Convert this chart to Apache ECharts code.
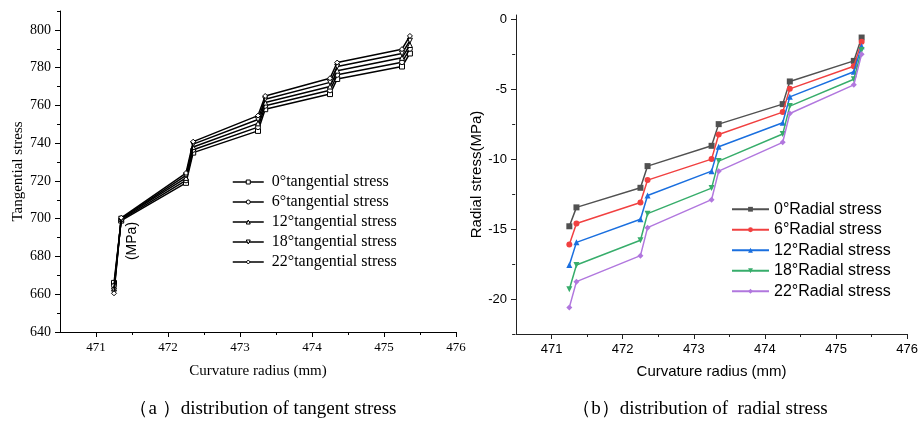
<!DOCTYPE html>
<html>
<head>
<meta charset="utf-8">
<script src="https://cdn.jsdelivr.net/npm/echarts@6/dist/echarts.min.js"></script>
<style>
  html, body { margin: 0; padding: 0; background: #fff; }
  #main { width: 921px; height: 423px; }
</style>
</head>
<body>
<div id="main"></div>
<script>
// curvature radius (mm), shared by both panels
var radius = [471.25, 471.35, 472.25, 472.35, 473.25, 473.35, 474.25, 474.35, 475.25, 475.36];

var angles = ['0°', '6°', '12°', '18°', '22°'];

// tangential stress (MPa)
var tan0  = [666.0, 699.0, 719.0, 735.0, 746.5, 758.0, 766.0, 774.0, 780.6, 787.5];
var tan6  = [664.5, 699.5, 720.3, 736.5, 748.5, 759.8, 768.0, 776.2, 782.9, 790.0];
var tan12 = [663.0, 700.0, 721.6, 738.0, 750.5, 761.5, 770.0, 778.4, 785.2, 792.0];
var tan18 = [662.0, 700.0, 722.9, 739.5, 752.5, 763.3, 772.2, 780.6, 787.5, 794.3];
var tan22 = [660.5, 700.5, 724.2, 740.8, 754.6, 765.0, 774.4, 782.7, 789.8, 796.8];

// radial stress (MPa)
var rad0  = [-14.8, -13.45, -12.05, -10.5, -9.05, -7.5, -6.07, -4.45, -2.98, -1.31];
var rad6  = [-16.1, -14.6, -13.1, -11.5, -10.0, -8.24, -6.64, -4.98, -3.36, -1.62];
var rad12 = [-17.57, -15.95, -14.3, -12.6, -10.86, -9.12, -7.4, -5.55, -3.76, -1.93];
var rad18 = [-19.3, -17.57, -15.8, -13.9, -12.07, -10.14, -8.21, -6.21, -4.29, -2.21];
var rad22 = [-20.6, -18.76, -16.9, -14.9, -12.9, -10.86, -8.8, -6.74, -4.69, -2.5];

// tick values
var xMajor = [471, 472, 473, 474, 475, 476];
var xMinor = [471.5, 472.5, 473.5, 474.5, 475.5];
var tanMajor = [640, 660, 680, 700, 720, 740, 760, 780, 800];
var tanMinor = [650, 670, 690, 710, 730, 750, 770, 790, 810];
var radMajor = [-20, -15, -10, -5, 0];
var radMinor = [-22.5, -17.5, -12.5, -7.5, -2.5];

var serif = '"Liberation Serif", "Times New Roman", serif';
var sans = '"Liberation Sans", Arial, sans-serif';

var tanSets = [tan0, tan6, tan12, tan18, tan22];
var radSets = [rad0, rad6, rad12, rad18, rad22];
var symbols = ['rect', 'circle', 'triangle', 'triangle', 'diamond'];
var symRot = [0, 0, 0, 180, 0];
var colors = ['#515151', '#F14040', '#1A6FDF', '#37AD6B', '#B177DE'];

// grid boxes
var g0 = { left: 60, right: 465, top: 11, bottom: 91 };
var g1 = { left: 516, right: 13, top: 15, bottom: 89 };
var g0w = 921 - g0.left - g0.right, g0h = 423 - g0.top - g0.bottom;
var g1w = 921 - g1.left - g1.right, g1h = 423 - g1.top - g1.bottom;

function pairs(vals) {
    return radius.map(function (r, i) { return [r, vals[i]]; });
}

function xAxisMain(gi, font, color, gap) {
    return {
        gridIndex: gi, type: 'value', min: 470.5, max: 476,
        name: 'Curvature radius (mm)', nameLocation: 'middle', nameGap: gap,
        nameTextStyle: { fontFamily: font, fontSize: 15, color: '#000' },
        axisLine: { show: true, onZero: false, lineStyle: { color: color, width: 1 } },
        axisTick: { show: true, inside: false, length: 5, customValues: xMajor, lineStyle: { color: color } },
        axisLabel: { customValues: xMajor, fontFamily: font, fontSize: 13, color: '#000', margin: 9 },
        splitLine: { show: false }
    };
}
// minor ticks: a second axis sitting on 'top', shifted down onto the bottom line
function xAxisMinor(gi, color, h) {
    return {
        gridIndex: gi, type: 'value', min: 470.5, max: 476, position: 'top', offset: -h,
        axisLine: { show: false },
        axisTick: { show: true, inside: true, length: 3, customValues: xMinor, lineStyle: { color: color } },
        axisLabel: { show: false },
        splitLine: { show: false }
    };
}

var option = {
    animation: false,
    backgroundColor: '#fff',
    grid: [g0, g1],
    xAxis: [
        xAxisMain(0, serif, '#000', 32),
        xAxisMinor(0, '#000', g0h),
        xAxisMain(1, sans, '#222', 30),
        xAxisMinor(1, '#222', g1h)
    ],
    yAxis: [
        {
            gridIndex: 0, type: 'value', min: 640, max: 810,
            name: 'Tangential stress', nameLocation: 'middle', nameGap: 34,
            nameTextStyle: { fontFamily: serif, fontSize: 15, color: '#000' },
            axisLine: { show: true, lineStyle: { color: '#000' } },
            axisTick: { show: true, length: 5, customValues: tanMajor, lineStyle: { color: '#000' } },
            axisLabel: { customValues: tanMajor, fontFamily: serif, fontSize: 14, color: '#000', margin: 9 },
            splitLine: { show: false }
        },
        {
            gridIndex: 0, type: 'value', min: 640, max: 810, position: 'right', offset: -g0w,
            axisLine: { show: false },
            axisTick: { show: true, inside: true, length: 3, customValues: tanMinor, lineStyle: { color: '#000' } },
            axisLabel: { show: false },
            splitLine: { show: false }
        },
        {
            gridIndex: 1, type: 'value', min: -22.5, max: 0.3,
            name: 'Radial stress(MPa)', nameLocation: 'middle', nameGap: 30,
            nameTextStyle: { fontFamily: sans, fontSize: 15, color: '#000' },
            axisLine: { show: true, lineStyle: { color: '#222' } },
            axisTick: { show: true, length: 5, customValues: radMajor, lineStyle: { color: '#222' } },
            axisLabel: { customValues: radMajor, fontFamily: sans, fontSize: 13, color: '#000', margin: 9 },
            splitLine: { show: false }
        },
        {
            gridIndex: 1, type: 'value', min: -22.5, max: 0.3, position: 'right', offset: -g1w,
            axisLine: { show: false },
            axisTick: { show: true, inside: true, length: 3, customValues: radMinor, lineStyle: { color: '#222' } },
            axisLabel: { show: false },
            splitLine: { show: false }
        }
    ],
    legend: [
        {
            orient: 'vertical', left: 227, top: 169,
            itemWidth: 31, itemHeight: 5, itemGap: 4,
            itemStyle: { color: '#fff', borderColor: '#000', borderWidth: 1 },
            lineStyle: { color: '#000', width: 1.5 },
            textStyle: { fontFamily: serif, fontSize: 16, color: '#000', lineHeight: 16, padding: [0, 0, 0, 3] },
            data: angles.map(function (a) { return a + 'tangential stress'; })
        },
        {
            orient: 'vertical', left: 726, top: 196,
            itemWidth: 37, itemHeight: 6, itemGap: 4,
            textStyle: { fontFamily: sans, fontSize: 16, color: '#000', lineHeight: 16.5 },
            data: angles.map(function (a) { return a + 'Radial stress'; })
        }
    ],
    graphic: [
        {
            type: 'text', x: 132, y: 241, rotation: Math.PI / 2,
            style: { text: '(MPa)', font: '14px ' + sans, fill: '#000', align: 'center', verticalAlign: 'middle' }
        },
        {
            type: 'text', x: 263, y: 409,
            style: { text: '（a ）distribution of tangent stress', font: '19px ' + serif, fill: '#000', align: 'center', verticalAlign: 'middle' }
        },
        {
            type: 'text', x: 700, y: 409,
            style: { text: '（b）distribution of  radial stress', font: '19px ' + serif, fill: '#000', align: 'center', verticalAlign: 'middle' }
        }
    ],
    series: []
};

for (var i = 0; i < angles.length; i++) {
    option.series.push({
        name: angles[i] + 'tangential stress',
        type: 'line', xAxisIndex: 0, yAxisIndex: 0,
        data: pairs(tanSets[i]),
        symbol: symbols[i], symbolRotate: symRot[i], symbolSize: 5, showAllSymbol: true,
        lineStyle: { color: '#000', width: 1.5 },
        itemStyle: { color: '#fff', borderColor: '#000', borderWidth: 1 },
        z: 2 + i
    });
}
for (var j = 0; j < angles.length; j++) {
    option.series.push({
        name: angles[j] + 'Radial stress',
        type: 'line', xAxisIndex: 2, yAxisIndex: 2,
        data: pairs(radSets[j]),
        symbol: symbols[j], symbolRotate: symRot[j], symbolSize: 6, showAllSymbol: true,
        lineStyle: { color: colors[j], width: 1.5 },
        itemStyle: { color: colors[j] },
        z: 2 + j
    });
}

var myChart = echarts.init(document.getElementById('main'), null, { renderer: 'canvas' });
myChart.setOption(option);
</script>
</body>
</html>
